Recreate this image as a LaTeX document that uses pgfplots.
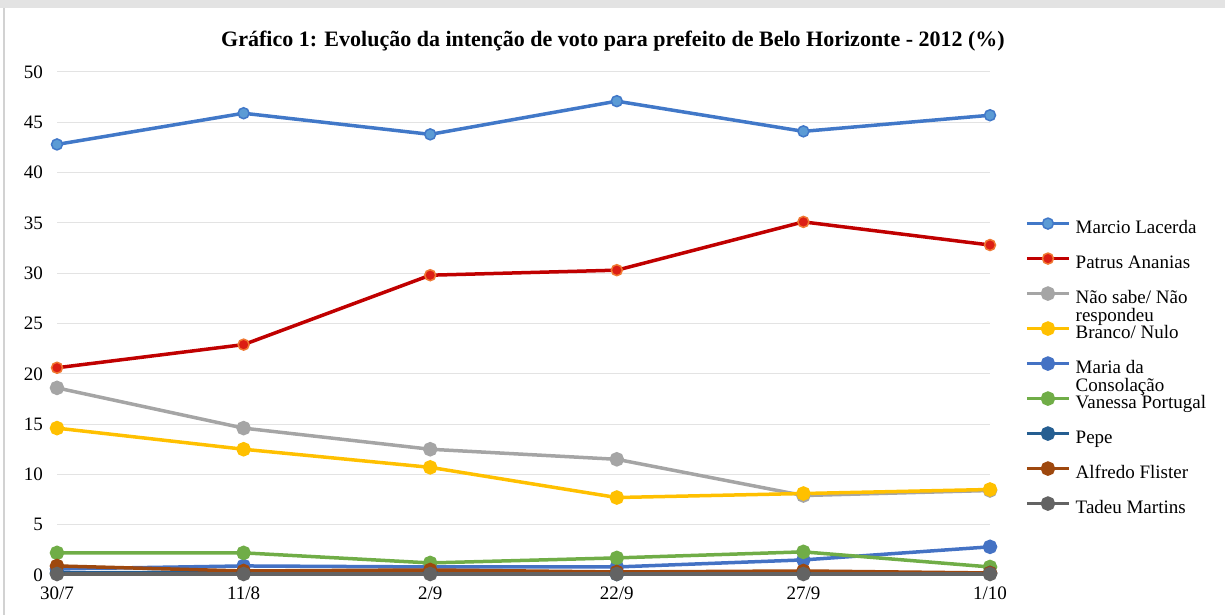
\documentclass[border=0pt]{standalone}
\usepackage{pgfplots}
\pgfplotsset{compat=1.18}
\usepackage{fontspec}
\setmainfont{Liberation Serif}
\definecolor{cMarcio}{RGB}{65,120,200}
\definecolor{cMarcioF}{RGB}{91,155,213}
\definecolor{cPatrus}{RGB}{192,0,0}
\definecolor{cPatrusF}{RGB}{220,30,20}
\definecolor{cPatrusD}{RGB}{240,120,50}
\definecolor{cNao}{RGB}{165,165,165}
\definecolor{cBranco}{RGB}{255,192,0}
\definecolor{cMaria}{RGB}{68,114,196}
\definecolor{cVanessa}{RGB}{112,173,71}
\definecolor{cPepe}{RGB}{37,94,145}
\definecolor{cAlfredo}{RGB}{158,72,14}
\definecolor{cTadeu}{RGB}{99,99,99}
\begin{document}
\begin{tikzpicture}[x=1pt,y=1pt]
\path[use as bounding box] (0,0) rectangle (1225,615);
\fill[gray!22] (0,607) rectangle (1225,615);
\draw[gray!35, line width=1.5pt] (4,0) -- (4,607);
\node[font=\fontsize{22}{25}\selectfont\bfseries] at (613,574) {Gráfico 1: Evolução da intenção de voto para prefeito de Belo Horizonte - 2012 (\%)};
\begin{axis}[
  at={(57pt,40pt)}, anchor=south west, scale only axis,
  width=933pt, height=503pt,
  xmin=0, xmax=5, ymin=0, ymax=50,
  ytick={0,5,...,50}, xtick={0,1,2,3,4,5},
  xticklabels={30/7,11/8,2/9,22/9,27/9,1/10},
  ymajorgrids, grid style={gray!22, line width=1pt},
  axis line style={draw=none}, major tick length=0pt,
  tick label style={font=\fontsize{19}{22}\selectfont},
  /pgf/number format/assume math mode=true,
  yticklabel style={anchor=east, inner sep=0pt, xshift=-14pt},
  xticklabel style={anchor=north, inner sep=0pt, yshift=-12pt},
  clip=false,
  every axis plot/.append style={line width=3.5pt, mark=*, mark size=5.5pt},
  legend cell align=left,
  legend style={at={(axis description cs:1.0375,0.710)}, anchor=north west, draw=none, fill=none,
    inner sep=0pt, row sep=-2pt, column sep=5pt,
    nodes={inner sep=0pt, text height=13pt, text depth=22pt, font=\fontsize{19}{18}\selectfont}},
  legend image code/.code={\draw[#1, mark repeat=2, mark phase=2] plot coordinates {(0pt,14pt) (21pt,14pt) (42pt,14pt)};},
]
\addplot[color=cMarcio, mark options={fill=cMarcioF, draw=cMarcio, line width=1.5pt}] coordinates {(0,42.8) (1,45.9) (2,43.8) (3,47.1) (4,44.1) (5,45.7)};
\addlegendentry{Marcio Lacerda}
\addplot[color=cPatrus, mark options={fill=cPatrusF, draw=cPatrusD, line width=1.5pt}] coordinates {(0,20.6) (1,22.9) (2,29.8) (3,30.3) (4,35.1) (5,32.8)};
\addlegendentry{Patrus Ananias}
\addplot[color=cNao, mark options={fill=cNao}] coordinates {(0,18.6) (1,14.6) (2,12.5) (3,11.5) (4,7.9) (5,8.4)};
\addlegendentry{\raisebox{0pt}[\height][0pt]{\parbox[t]{150pt}{Não sabe/ Não\\respondeu}}}
\addplot[color=cBranco, mark options={fill=cBranco}] coordinates {(0,14.6) (1,12.5) (2,10.7) (3,7.7) (4,8.1) (5,8.5)};
\addlegendentry{Branco/ Nulo}
\addplot[color=cMaria, mark options={fill=cMaria}] coordinates {(0,0.6) (1,0.9) (2,0.8) (3,0.8) (4,1.5) (5,2.8)};
\addlegendentry{\raisebox{0pt}[\height][0pt]{\parbox[t]{150pt}{Maria da\\Consolação}}}
\addplot[color=cVanessa, mark options={fill=cVanessa}] coordinates {(0,2.2) (1,2.2) (2,1.2) (3,1.7) (4,2.3) (5,0.8)};
\addlegendentry{Vanessa Portugal}
\addplot[color=cPepe, mark options={fill=cPepe}] coordinates {(0,0.2) (1,0.3) (2,0.3) (3,0.1) (4,0.2) (5,0.2)};
\addlegendentry{Pepe}
\addplot[color=cAlfredo, mark options={fill=cAlfredo}] coordinates {(0,0.9) (1,0.4) (2,0.5) (3,0.3) (4,0.4) (5,0.2)};
\addlegendentry{Alfredo Flister}
\addplot[color=cTadeu, mark options={fill=cTadeu}] coordinates {(0,0.1) (1,0.1) (2,0.1) (3,0.1) (4,0.1) (5,0.1)};
\addlegendentry{Tadeu Martins}
\end{axis}
\end{tikzpicture}
\end{document}
